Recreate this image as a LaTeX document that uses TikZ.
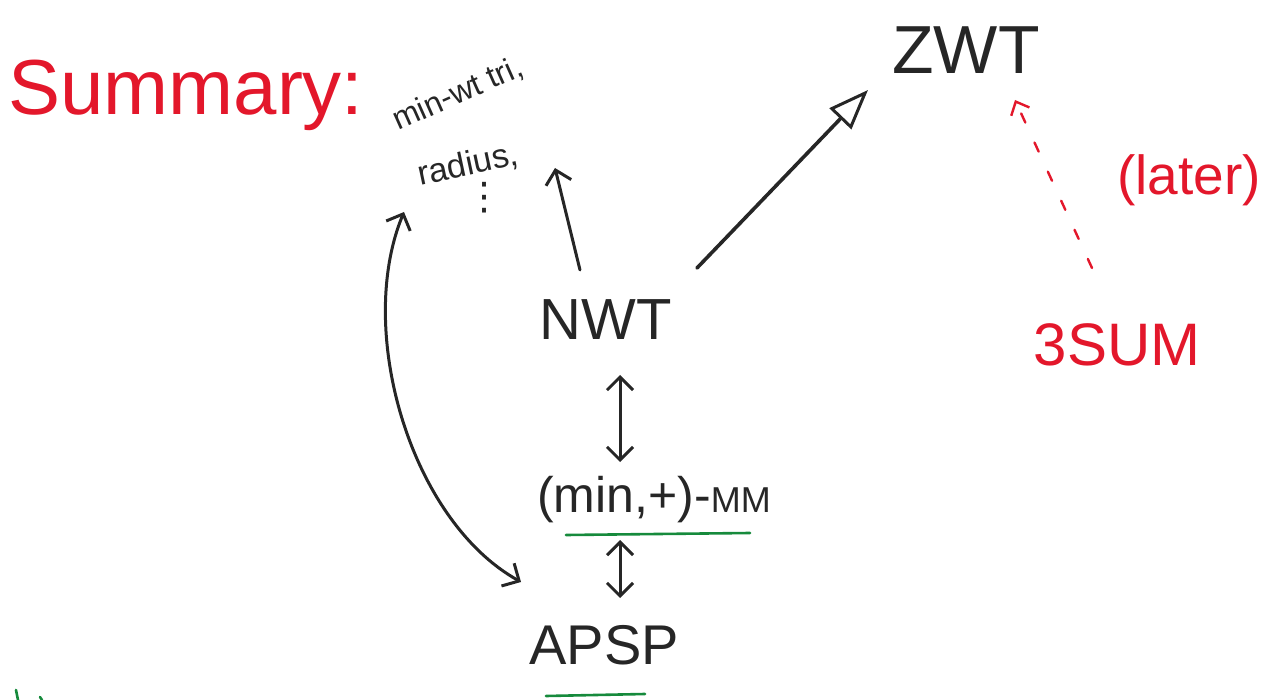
\documentclass[tikz,border=0pt]{standalone}
\usepackage{fontspec}
\setmainfont{Liberation Sans}
\newfontfamily\dejavu{DejaVu Sans}
\usetikzlibrary{arrows.meta}
\definecolor{inkred}{HTML}{E3172B}
\definecolor{inkblack}{HTML}{262626}
\definecolor{inkgreen}{HTML}{168A3C}
\tikzset{
  lbl/.style={inner sep=0pt, text=inkblack},
  redlbl/.style={inner sep=0pt, text=inkred},
  barb/.tip={Straight Barb[length=13pt,width=26pt,line width=3pt]},
  conn/.style={draw=inkblack, line width=3pt, line cap=round, -barb},
  dconn/.style={draw=inkblack, line width=3pt, line cap=round, barb-barb},
  under/.style={draw=inkgreen, line width=2.6pt, line cap=round}
}
\begin{document}
\begin{tikzpicture}[x=1pt,y=-1pt]
\useasboundingbox (0,0) rectangle (1277,700);
% labels
\node[redlbl, font=\fontsize{78}{80}\selectfont] (summary) at (186,95) {Summary:};
\node[lbl, font=\fontsize{32}{34}\selectfont, rotate=24, anchor=center] (minwt) at (458,94) {min-wt tri,};
\node[lbl, font=\fontsize{34}{36}\selectfont, rotate=12] (radius) at (468,165) {radius,};
\node[lbl, font=\dejavu\fontsize{38}{40}\selectfont] (vdots) at (484,198) {⋮};
\node[lbl, font=\fontsize{58}{60}\selectfont] (nwt) at (606,320) {NWT};
\node[lbl, font=\fontsize{68}{70}\selectfont] (zwt) at (966,50) {ZWT};
\node[lbl, font=\fontsize{50}{52}\selectfont] (mm) at (654,500) {(min,+)-{\fontsize{36}{38}\selectfont MM}};
\node[lbl, font=\fontsize{56}{58}\selectfont] (apsp) at (604,645) {APSP};
\node[redlbl, font=\fontsize{60}{62}\selectfont] (sum3) at (1117,345) {3SUM};
\node[redlbl, font=\fontsize{55}{57}\selectfont] (later) at (1189,180) {(later)};
% connector endpoints
\coordinate (listtip) at (555,168);
\coordinate (listfoot) at (580,270);
\coordinate (zwtfoot) at (697,268);
\coordinate (zwttip) at (868,90);
\coordinate (curvetop) at (404,212);
\coordinate (curvebot) at (521,582);
\coordinate (redtip) at (1015,100);
\coordinate (redfoot) at (1092,268);
\coordinate (a1) at (620,375);
\coordinate (a2) at (620,462);
\coordinate (b1) at (620,540);
\coordinate (b2) at (620,598);
% connectors
\draw[conn] (listfoot) -- (listtip);
\draw[draw=inkblack, line width=3.6pt, line cap=round, line join=round, -{Triangle[open,length=40pt,width=30pt,line width=3pt]}] (zwtfoot) -- (zwttip);
\draw[dconn] (a1) -- (a2);
\draw[dconn] (b1) -- (b2);
\draw[dconn] (curvetop) .. controls (355,330) and (410,520) .. (curvebot);
\draw[draw=inkred, line width=2.4pt, line cap=round, dash pattern=on 10pt off 22pt, -{Straight Barb[length=11pt,width=20pt,line width=2.4pt]}] (redfoot) -- (redtip);
% green underlines
\draw[under] (566,535) -- (750,533);
\draw[under] (546,696) -- (645,694);
\draw[under] (16,690) -- (18,700);
\draw[under] (40,697) -- (42,700);
\end{tikzpicture}
\end{document}
